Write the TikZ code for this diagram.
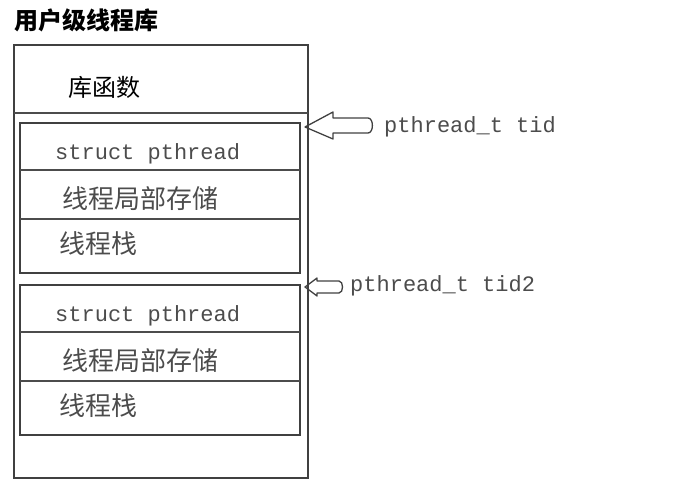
\documentclass[tikz,border=0pt]{standalone}
\usepackage{fontspec}
\setmonofont{Liberation Mono}
\newfontfamily\cjk{Noto Sans CJK SC}
\usetikzlibrary{positioning}
\tikzset{
    frame/.style={draw=black!75, line width=1.6pt},
    rowline/.style={draw=black!70, line width=1.3pt},
    cjklabel/.style={anchor=west, inner sep=0pt, text=black!70, font=\cjk\fontsize{26}{28}\selectfont},
    codelabel/.style={anchor=west, inner sep=0pt, text=black!70, font=\ttfamily\fontsize{22}{24}\selectfont},
    blockarrow/.style={draw=black!75, line width=1.3pt, line join=round}
}

\begin{document}
\begin{tikzpicture}[x=1pt,y=-1pt]
\useasboundingbox (0,0) rectangle (680,492);

% Title
\node[anchor=west, inner sep=0pt, font=\cjk\bfseries\fontsize{24}{26}\selectfont] (title) at (14,20) {用户级线程库};

% Outer frame
\draw[frame] (14,45) rectangle (308,478);
\draw[rowline] (14,113) -- (308,113);
\node[cjklabel, text=black, font=\cjk\fontsize{24}{26}\selectfont] (libfunc) at (68,87) {库函数};

% Thread blocks
\foreach \t/\n in {123/one,285/two}{
    \draw[frame] (20,\t) rectangle (300,\t+150);
    \draw[rowline] (20,\t+47) -- (300,\t+47);
    \draw[rowline] (20,\t+96) -- (300,\t+96);
    \node[codelabel] (struct-\n) at (55,\t+31) {struct pthread};
    \node[cjklabel] (tls-\n) at (62,\t+76) {线程局部存储};
    \node[cjklabel] (stack-\n) at (59,\t+121) {线程栈};
}

% Thread ids
\node[codelabel] (tid) at (384,127) {pthread\_t tid};
\node[codelabel] (tid2) at (350,286) {pthread\_t tid2};

\coordinate (tip1) at (305,127);
\coordinate (tip2) at (305,287);

\draw[blockarrow] (tip1) -- ++(28,-15) -- ++(0,6) -- ++(35,0) to[out=0,in=0] ++(0,15)
    -- ++(-35,0) -- ++(0,6) -- cycle;
\draw[blockarrow] (tip2) -- ++(12,-9) -- ++(0,3) -- ++(22,0) to[out=0,in=0] ++(0,12)
    -- ++(-22,0) -- ++(0,3) -- cycle;

\end{tikzpicture}
\end{document}
